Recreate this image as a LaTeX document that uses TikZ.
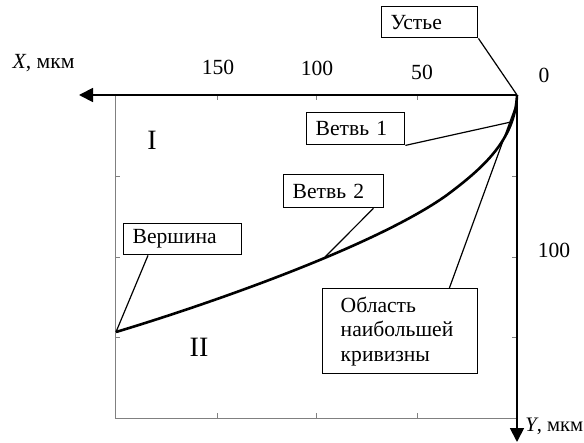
\documentclass[tikz,border=0pt]{standalone}
\usepackage{fontspec}
\setmainfont{Liberation Serif}
\usetikzlibrary{arrows.meta}
\newcommand{\lblfont}{\fontsize{10.8}{12.3}\selectfont}
\newcommand{\romfont}{\fontsize{14}{16}\selectfont}

\begin{document}
\begin{tikzpicture}[
  x=0.5pt, y=-0.5pt,
  box/.style={
    draw,
    line width=0.7pt,
    anchor=north west,
    align=left,
    inner xsep=4.5pt,
    inner ysep=0pt,
    font=\lblfont
  },
  axis/.style={draw, line width=0.9pt, -{Triangle[length=7pt,width=7pt]}},
  frame/.style={draw=gray, line width=0.4pt},
  lead/.style={draw, line width=0.6pt},
  curve/.style={draw, line width=1.3pt},
  num/.style={font=\lblfont}
]
\useasboundingbox (0,0) rectangle (584,443);

% frame and ticks
\draw[frame] (115,95) rectangle (517,418);
\foreach \x in {217,316,417} {
  \draw[frame] (\x,95) -- (\x,100);
  \draw[frame] (\x,418) -- (\x,413);
}
\foreach \y in {176,257,337} {
  \draw[frame] (115,\y) -- (120,\y);
  \draw[frame] (517,\y) -- (512,\y);
}

% axes
\coordinate (O) at (517,95);
\coordinate (xend) at (79,95);
\coordinate (yend) at (517,442);
\draw[axis] (O) -- (xend);
\draw[axis] (O) -- (yend);

\node[num] (xlab) at (43.5,63) {\textit{X}, мкм};
\node[num, font=\fontsize{10.3}{12}\selectfont, anchor=west, inner sep=0pt] (ylab) at (525,426) {\textit{Y}, мкм};
\node[num] (x150) at (218,67) {150};
\node[num] (x100) at (317,68) {100};
\node[num] (x50) at (422,72) {50};
\node[num] (x0) at (544,75) {0};
\node[num] (y100) at (554,250) {100};

\node[font=\romfont] (reg1) at (152,140) {I};
\node[font=\romfont] (reg2) at (199,347) {II};

% curve
\coordinate (b1) at (511,122);
\coordinate (b2) at (325,257);
\coordinate (kr) at (515,108);
\coordinate (bend) at (447,195);
\coordinate (V) at (116,332);
\draw[curve] (O) .. controls (515,140) and (483,168) .. (bend)
  .. controls (374,247.2) and (202,306.2) .. (V);

% labels
\node[box, text width=39pt, minimum height=15.5pt] (ust) at (381,6) {Устье};
\node[box, text width=40pt, minimum height=16pt] (vetv1) at (306,112) {Ветвь 1};
\node[box, text width=41pt, minimum height=16.5pt] (vetv2) at (283,174) {Ветвь 2};
\node[box, text width=50pt, minimum height=15.5pt] (versh) at (123,223) {Вершина};
\node[box, text width=59.5pt, inner xsep=9pt, minimum height=42.5pt] (obl) at (322,288) {Область\\наибольшей\\кривизны};

\draw[lead] (ust.south east) -- (O);
\draw[lead] (vetv1.south east) -- (b1);
\draw[lead] ([xshift=-5.5pt]vetv2.south east) -- (b2);
\draw[lead] ([xshift=12.5pt]versh.south west) -- (V);
\draw[lead] ([xshift=-14.5pt]obl.north east) -- (kr);
\end{tikzpicture}
\end{document}
